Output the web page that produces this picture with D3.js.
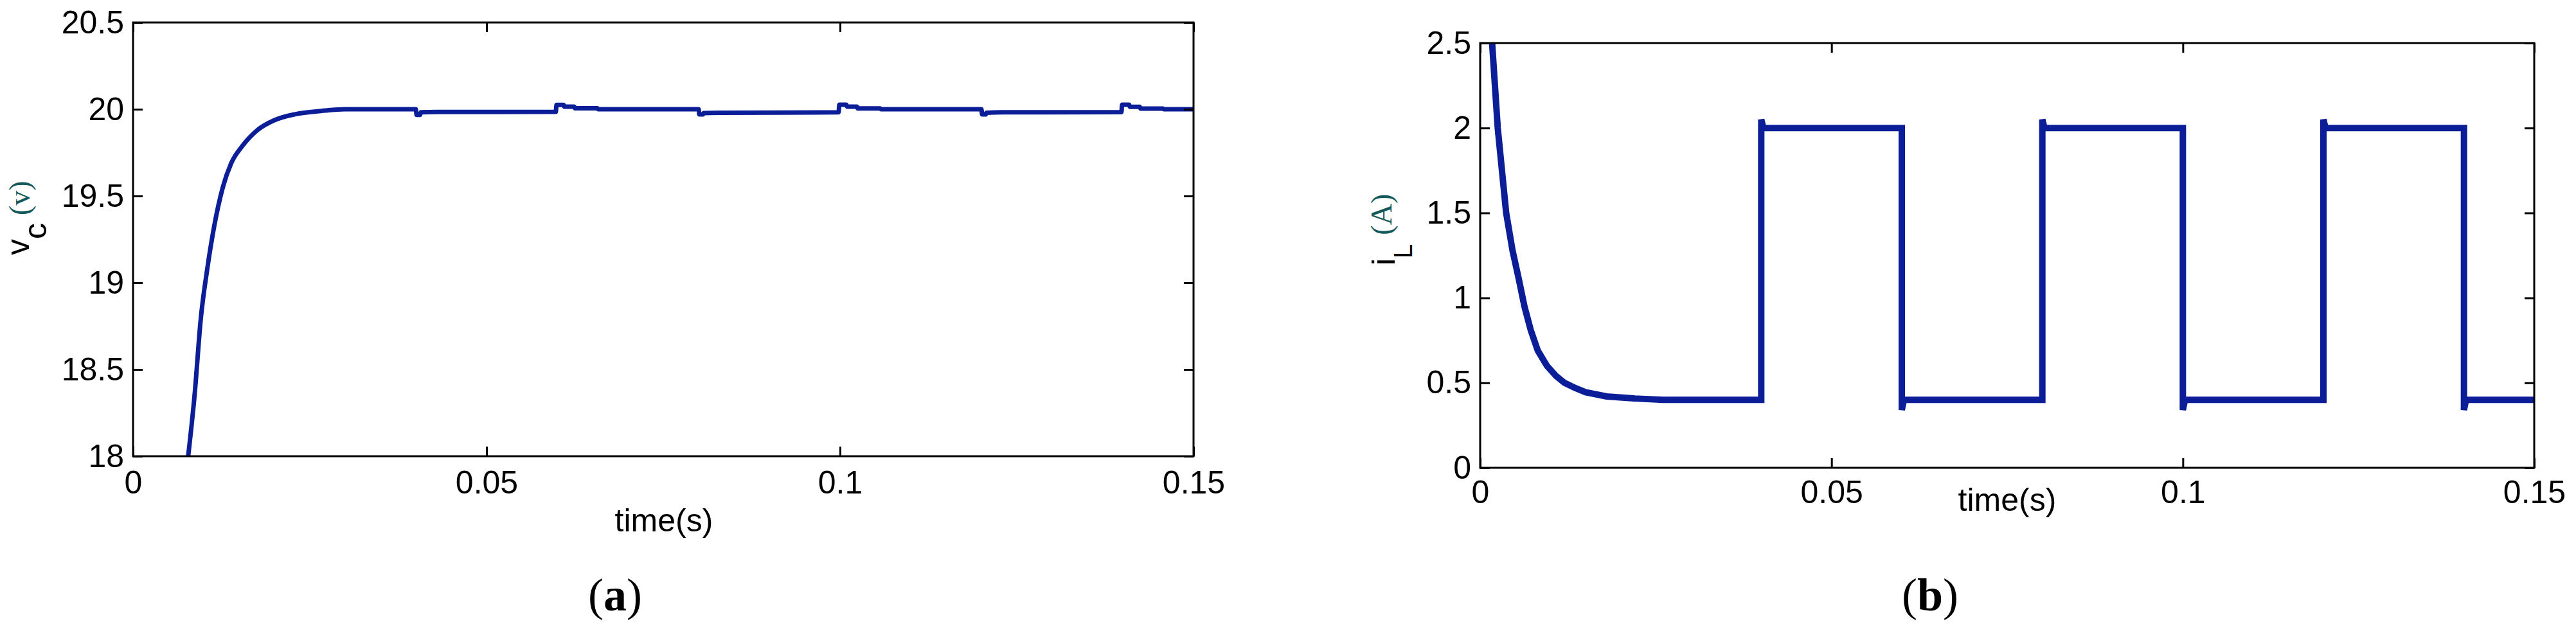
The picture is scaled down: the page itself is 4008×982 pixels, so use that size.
<!DOCTYPE html>
<html lang="en">
<head>
    <meta charset="UTF-8">
    <title>Capacitor voltage and inductor current</title>
    <script src="https://d3js.org/d3.v7.min.js"></script>
    <style>
        body { margin: 0; background: #fff; }
    </style>
</head>
<body>

    <script>
        // tick values for both panels
        var timeTicks = [0, 0.05, 0.1, 0.15];
        var vcTicks = [18, 18.5, 19, 19.5, 20, 20.5];
        var iLTicks = [0, 0.5, 1, 1.5, 2, 2.5];

        // capacitor voltage v_c (V): [time, value]
        var vcPoints = [
            [0.0078, 18.0], [0.0087, 18.35], [0.0096, 18.8], [0.0105, 19.08],
            [0.0115, 19.33], [0.0127, 19.55], [0.0139, 19.69], [0.0155, 19.79],
            [0.0176, 19.88], [0.0200, 19.937], [0.0230, 19.972], [0.0266, 19.99],
            [0.0300, 20.0], [0.0400, 20.0],
            [0.0401, 19.968], [0.0406, 19.968], [0.0407, 19.982], [0.0430, 19.984],
            [0.0598, 19.985], [0.0599, 20.025], [0.0609, 20.025], [0.0610, 20.015],
            [0.0624, 20.015], [0.0625, 20.006], [0.0657, 20.006], [0.0658, 20.0],
            [0.0800, 20.0],
            [0.0801, 19.97], [0.0806, 19.97], [0.0807, 19.978], [0.0830, 19.98],
            [0.0998, 19.982], [0.0999, 20.026], [0.1009, 20.026], [0.1010, 20.015],
            [0.1024, 20.015], [0.1025, 20.005], [0.1057, 20.005], [0.1058, 20.0],
            [0.1200, 20.0],
            [0.1201, 19.97], [0.1206, 19.97], [0.1207, 19.98], [0.1230, 19.982],
            [0.1398, 19.983], [0.1399, 20.026], [0.1409, 20.026], [0.1410, 20.014],
            [0.1424, 20.014], [0.1425, 20.004], [0.1457, 20.004], [0.1458, 20.0],
            [0.1500, 20.0]
        ];

        // inductor current i_L (A): [time, value]
        var iLPoints = [
            [0.0017, 2.5], [0.0025, 2.0], [0.0037, 1.5], [0.0046, 1.28],
            [0.0055, 1.11], [0.0063, 0.95], [0.0072, 0.81], [0.0082, 0.69],
            [0.0095, 0.60], [0.0108, 0.54], [0.0120, 0.50], [0.0135, 0.47],
            [0.0150, 0.445], [0.0180, 0.42], [0.0220, 0.408], [0.0260, 0.40],
            [0.0400, 0.40], [0.0400, 2.05], [0.0403, 2.0], [0.0600, 2.0],
            [0.0600, 0.34], [0.0603, 0.40], [0.0800, 0.40], [0.0800, 2.05],
            [0.0803, 2.0], [0.1000, 2.0], [0.1000, 0.34], [0.1003, 0.40],
            [0.1200, 0.40], [0.1200, 2.05], [0.1203, 2.0], [0.1400, 2.0],
            [0.1400, 0.34], [0.1403, 0.40], [0.1500, 0.40]
        ];

        var lineColor = "#0b1d97";
        var labelTeal = "#145a5a";

        var svg = d3.select("body").append("svg")
            .attr("width", 4008)
            .attr("height", 982)
            .style("font-family", "'Liberation Sans', Arial, sans-serif");

        svg.append("rect").attr("width", 4008).attr("height", 982).attr("fill", "#fff");

        // draws one MATLAB-like panel with a box, inward ticks and the trace
        function drawPanel(opts) {
            var g = svg.append("g")
                .attr("transform", "translate(" + opts.left + "," + opts.top + ")");

            var x = d3.scaleLinear().domain([0, 0.15]).range([0, opts.width]);
            var y = d3.scaleLinear().domain(opts.yDomain).range([opts.height, 0]);

            // clip so the trace stays inside the box
            g.append("clipPath").attr("id", opts.id + "-clip")
                .append("rect").attr("width", opts.width).attr("height", opts.height);

            g.append("path")
                .datum(opts.points)
                .attr("clip-path", "url(#" + opts.id + "-clip)")
                .attr("fill", "none")
                .attr("stroke", lineColor)
                .attr("stroke-width", opts.lineWidth)
                .attr("stroke-linejoin", "miter")
                .attr("d", d3.line().curve(opts.curve).x(d => x(d[0])).y(d => y(d[1])));

            // bottom axis with labels
            var bottom = g.append("g")
                .attr("transform", "translate(0," + opts.height + ")")
                .call(d3.axisBottom(x).tickValues(timeTicks).tickSize(-15).tickSizeOuter(0)
                    .tickPadding(opts.xPad).tickFormat(d => String(d)));

            // left axis with labels
            var left = g.append("g")
                .call(d3.axisLeft(y).tickValues(opts.yTicks).tickSize(-15).tickSizeOuter(0)
                    .tickPadding(14).tickFormat(d => String(d)));

            // top and right: ticks only
            var top = g.append("g")
                .call(d3.axisTop(x).tickValues(timeTicks).tickSize(-15).tickSizeOuter(0).tickFormat(""));
            var right = g.append("g")
                .attr("transform", "translate(" + opts.width + ",0)")
                .call(d3.axisRight(y).tickValues(opts.yTicks).tickSize(-15).tickSizeOuter(0).tickFormat(""));

            [bottom, left, top, right].forEach(a => {
                a.select(".domain").remove();
                a.selectAll(".tick line").attr("stroke", "#000").attr("stroke-width", 3);
                a.selectAll(".tick text")
                    .attr("fill", "#000")
                    .style("font-size", "50px")
                    .style("font-family", "'Liberation Sans', Arial, sans-serif");
            });

            // the box
            g.append("rect")
                .attr("width", opts.width)
                .attr("height", opts.height)
                .attr("fill", "none")
                .attr("stroke", "#000")
                .attr("stroke-width", 3);

            return g;
        }

        drawPanel({
            id: "vc", left: 207, top: 35, width: 1650, height: 675,
            yDomain: [18, 20.5], yTicks: vcTicks, points: vcPoints,
            lineWidth: 7, xPad: 22, curve: d3.curveMonotoneX
        });

        drawPanel({
            id: "il", left: 2303, top: 67, width: 1640, height: 661,
            yDomain: [0, 2.5], yTicks: iLTicks, points: iLPoints,
            lineWidth: 10, xPad: 19, curve: d3.curveLinear
        });

        // y labels, rotated, with subscript and teal unit
        var vcLabel = svg.append("text")
            .attr("transform", "translate(45,397) rotate(-90)")
            .style("font-size", "50px");
        vcLabel.append("tspan").text("v");
        vcLabel.append("tspan").attr("dy", 27).text("c");
        vcLabel.append("tspan").attr("dy", -26).attr("dx", 12)
            .style("font-family", "'Liberation Serif', 'Times New Roman', serif")
            .style("font-size", "46px").attr("fill", labelTeal).text("(v)");

        var iLLabel = svg.append("text")
            .attr("transform", "translate(2170,413) rotate(-90)")
            .style("font-size", "50px");
        iLLabel.append("tspan").text("i");
        iLLabel.append("tspan").attr("dy", 27).style("font-size", "40px").text("L");
        iLLabel.append("tspan").attr("dy", -32).attr("dx", 14)
            .style("font-family", "'Liberation Serif', 'Times New Roman', serif")
            .style("font-size", "46px").attr("fill", labelTeal).text("(A)");

        // x labels
        svg.append("text").attr("x", 1033).attr("y", 827).attr("text-anchor", "middle")
            .style("font-size", "50px").text("time(s)");
        svg.append("text").attr("x", 3123).attr("y", 795).attr("text-anchor", "middle")
            .style("font-size", "50px").text("time(s)");

        // sub-figure captions
        function caption(cx, letter) {
            var t = svg.append("text").attr("x", cx).attr("y", 950).attr("text-anchor", "middle")
                .style("font-family", "'Liberation Serif', 'Times New Roman', serif")
                .style("font-size", "72px");
            t.append("tspan").text("(");
            t.append("tspan").style("font-weight", "bold").text(letter);
            t.append("tspan").text(")");
        }
        caption(957, "a");
        caption(3003, "b");
    </script>

</body>
</html>
